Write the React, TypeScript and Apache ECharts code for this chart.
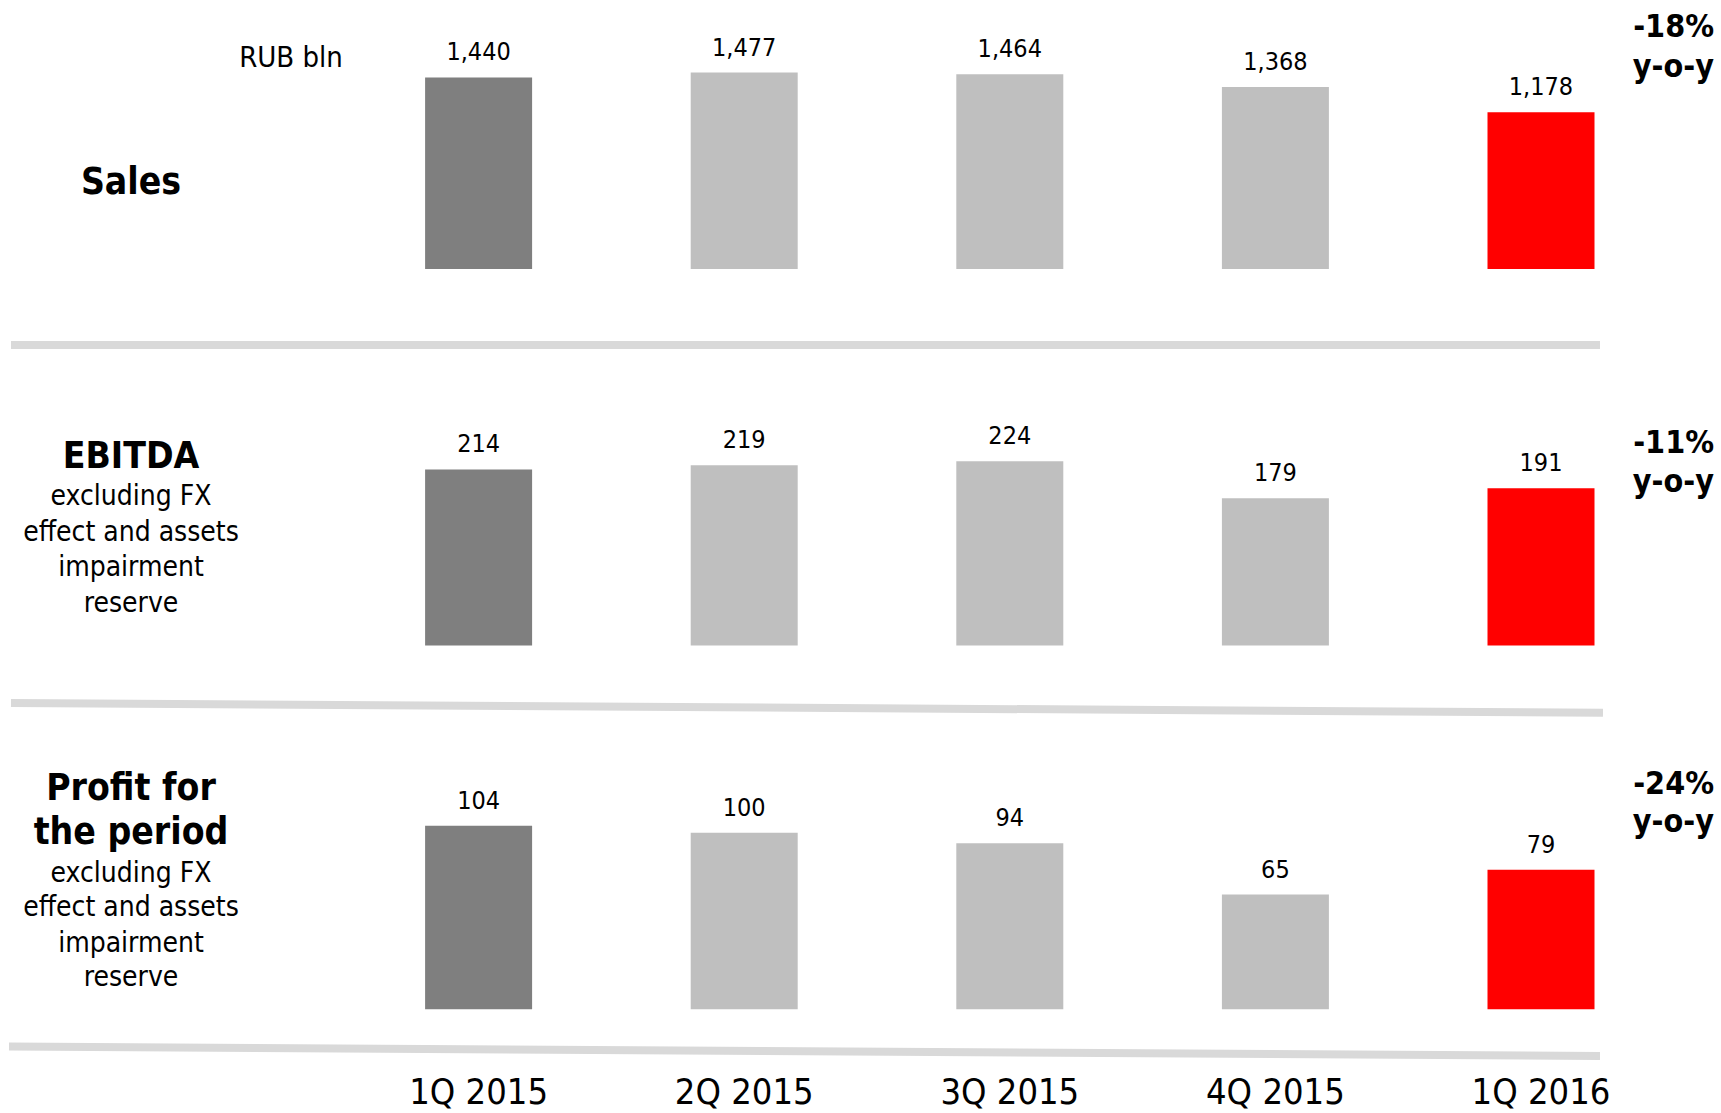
import React, { useEffect, useRef } from "react";
import * as echarts from "echarts";

// Quarterly figures, RUB bln
const quarters = ["1Q 2015", "2Q 2015", "3Q 2015", "4Q 2015", "1Q 2016"];
const salesValues = [1440, 1477, 1464, 1368, 1178];
const ebitdaValues = [214, 219, 224, 179, 191];
const profitValues = [104, 100, 94, 65, 79];
const yoyChanges = ["-18%", "-11%", "-24%"];
const barColors = ["#7f7f7f", "#bfbfbf", "#bfbfbf", "#bfbfbf", "#ff0000"];

const FONT = "'DejaVu Sans Condensed', 'DejaVu Sans', sans-serif";

const W = 1721;
const H = 1113;

// panel layout: grid top / height and value-axis max
const panels = [
  { top: 56.2, height: 212.8, max: 1600, values: salesValues },
  { top: 439.75, height: 205.75, max: 250, values: ebitdaValues },
  { top: 806.3, height: 203, max: 115, values: profitValues },
];

const fmt = (v: number) => v.toLocaleString("en-US");

function txt(
  text: string,
  x: number,
  y: number,
  size: number,
  bold: boolean,
  align: "left" | "center" | "right" = "center"
) {
  return {
    type: "text",
    x,
    y,
    silent: true,
    style: {
      text,
      fill: "#000",
      fontFamily: FONT,
      fontSize: size,
      fontWeight: bold ? "bold" : "normal",
      align,
      verticalAlign: "middle",
      textAlign: align,
      textVerticalAlign: "middle",
    },
  };
}

function sepLine(x1: number, y1: number, x2: number, y2: number) {
  return {
    type: "line",
    silent: true,
    shape: { x1, y1, x2, y2 },
    style: { stroke: "#d9d9d9", lineWidth: 8, lineCap: "butt" },
  };
}

export default function App() {
  const ref = useRef<HTMLDivElement>(null);

  useEffect(() => {
    if (!ref.current) return;
    const chart = echarts.init(ref.current, undefined, { renderer: "svg" });

    const grids = panels.map((p) => ({
      left: 345.8,
      right: 47.2,
      top: p.top,
      height: p.height,
      containLabel: false,
    }));

    const xAxes = panels.map((_, i) => ({
      type: "category",
      gridIndex: i,
      data: quarters,
      axisLine: { show: false },
      axisTick: { show: false },
      splitLine: { show: false },
      axisLabel:
        i === 2
          ? {
              show: true,
              margin: 64,
              color: "#000",
              fontFamily: FONT,
              fontSize: 36,
            }
          : { show: false },
    }));

    const yAxes = panels.map((p, i) => ({
      type: "value",
      gridIndex: i,
      min: 0,
      max: p.max,
      show: false,
      splitLine: { show: false },
    }));

    const series = panels.map((p, i) => ({
      type: "bar",
      xAxisIndex: i,
      yAxisIndex: i,
      barWidth: 107,
      data: p.values.map((v, j) => ({
        value: v,
        itemStyle: { color: barColors[j] },
      })),
      label: {
        show: true,
        position: "top",
        distance: 13,
        color: "#000",
        fontFamily: FONT,
        fontSize: 25,
        formatter: (d: any) => fmt(d.value),
      },
    }));

    const graphics: any[] = [
      sepLine(11, 345, 1600, 345),
      sepLine(11, 703, 1603, 712.7),
      sepLine(9, 1046.5, 1600, 1056),

      txt("RUB bln", 291, 56.7, 29, false),
      txt("Sales", 131, 181.8, 37, true),

      txt("EBITDA", 131, 455.5, 37, true),
      txt("excluding FX", 131, 495.5, 28, false),
      txt("effect and assets", 131, 531, 28, false),
      txt("impairment", 131, 566.5, 28, false),
      txt("reserve", 131, 602, 28, false),

      txt("Profit for", 131, 787.5, 37, true),
      txt("the period", 131, 831.8, 37, true),
      txt("excluding FX", 131, 872, 28, false),
      txt("effect and assets", 131, 906.5, 28, false),
      txt("impairment", 131, 942, 28, false),
      txt("reserve", 131, 976.5, 28, false),

      txt(yoyChanges[0], 1714, 25.5, 32, true, "right"),
      txt("y-o-y", 1714, 66, 32, true, "right"),
      txt(yoyChanges[1], 1714, 442, 32, true, "right"),
      txt("y-o-y", 1714, 481, 32, true, "right"),
      txt(yoyChanges[2], 1714, 782.5, 32, true, "right"),
      txt("y-o-y", 1714, 821, 32, true, "right"),
    ];

    chart.setOption({
      animation: false,
      backgroundColor: "#ffffff",
      textStyle: { fontFamily: FONT },
      grid: grids,
      xAxis: xAxes,
      yAxis: yAxes,
      series,
      graphic: { elements: graphics },
    });

    return () => chart.dispose();
  }, []);

  return (
    <div
      ref={ref}
      style={{ position: "absolute", left: 0, top: 0, width: W, height: H }}
    />
  );
}
